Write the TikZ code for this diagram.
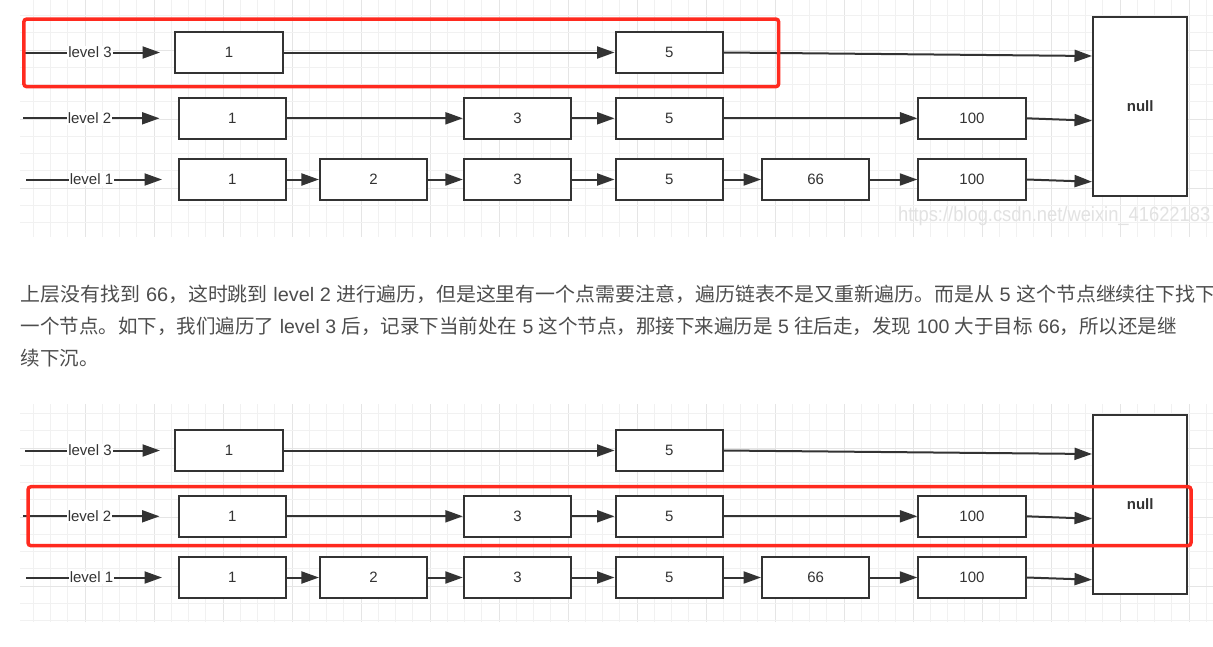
\documentclass[tikz,border=0pt]{standalone}
\usepackage{fontspec}
\setmainfont{Liberation Sans}
\newfontfamily\cjk{Noto Sans CJK SC}
\usetikzlibrary{arrows.meta}
\definecolor{ink}{HTML}{333333}
\definecolor{txt}{HTML}{4D4D4D}
\definecolor{hl}{HTML}{FF2A1F}
\definecolor{gmin}{HTML}{F1F1F1}
\definecolor{gmaj}{HTML}{E5E5E5}
\definecolor{wm}{HTML}{E2E2E2}
\newcommand\zh[1]{{\cjk #1}}
\newcommand\skiplist[2]{%
\begin{scope}[yshift=#2]
  % null block
  \node[nullbox] (#1null) at (1140.2,106.5) {null};
  \coordinate (#1n3) at (1092,56);
  \coordinate (#1n2) at (1092,120.7);
  \coordinate (#1n1) at (1092,181.7);
  % level 3
  \coordinate (#1s3) at (25,52.5);
  \node[lvl] (#1l3) at (90,52.5) {level 3};
  \coordinate (#1e3) at (160,52.5);
  \node[box] (#1a1) at (229,52.5) {1};
  \node[box] (#1a5) at (669.2,52.5) {5};
  % level 2
  \coordinate (#1s2) at (23,118.3);
  \node[lvl] (#1l2) at (89.5,118.3) {level 2};
  \coordinate (#1e2) at (159.5,118.3);
  \node[box] (#1b1) at (232.4,118.3) {1};
  \node[box] (#1b3) at (517.5,118.3) {3};
  \node[box] (#1b5) at (669.2,118.3) {5};
  \node[box] (#1b100) at (972,118.3) {100};
  % level 1
  \coordinate (#1s1) at (26,179.5);
  \node[lvl] (#1l1) at (91.5,179.5) {level 1};
  \coordinate (#1e1) at (162,179.5);
  \node[box] (#1c1) at (232.4,179.5) {1};
  \node[box] (#1c2) at (373.6,179.5) {2};
  \node[box] (#1c3) at (517.5,179.5) {3};
  \node[box] (#1c5) at (669.2,179.5) {5};
  \node[box] (#1c66) at (815.7,179.5) {66};
  \node[box] (#1c100) at (972,179.5) {100};
  % connectors
  \draw[feed] (#1s3) -- (#1l3.west);
  \draw[link] (#1l3.east) -- (#1e3);
  \draw[feed] (#1s2) -- (#1l2.west);
  \draw[link] (#1l2.east) -- (#1e2);
  \draw[feed] (#1s1) -- (#1l1.west);
  \draw[link] (#1l1.east) -- (#1e1);
  \draw[link] (#1a1) -- (#1a5);
  \draw[link] (#1a5.east) -- (#1n3);
  \draw[link] (#1b1) -- (#1b3);
  \draw[link] (#1b3) -- (#1b5);
  \draw[link] (#1b5) -- (#1b100);
  \draw[link] (#1b100.east) -- (#1n2);
  \draw[link] (#1c1) -- (#1c2);
  \draw[link] (#1c2) -- (#1c3);
  \draw[link] (#1c3) -- (#1c5);
  \draw[link] (#1c5) -- (#1c66);
  \draw[link] (#1c66) -- (#1c100);
  \draw[link] (#1c100.east) -- (#1n1);
\end{scope}}
\newcommand\gridarea[2]{% top, bottom
  \foreach \i in {0,...,68}{
    \pgfmathtruncatemacro\m{mod(\i,4)}
    \ifnum\m=3 \def\gc{gmaj}\else\def\gc{gmin}\fi
    \draw[\gc, line width=1pt] ({33.3+17.25*\i},#1) -- ({33.3+17.25*\i},#2);
  }
}
\newcommand\gridrows[2]{% first y, count
  \foreach \k in {0,...,#2}{
    \pgfmathtruncatemacro\m{mod(\k,4)}
    \ifnum\m=2 \def\gc{gmaj}\else\def\gc{gmin}\fi
    \draw[\gc, line width=1pt] (20,{#1+17.25*\k}) -- (1213,{#1+17.25*\k});
  }
}
\begin{document}
\begin{tikzpicture}[x=1pt,y=-1pt,
  box/.style={draw=ink, fill=white, line width=2pt, minimum width=107.3pt,
    minimum height=41pt, inner sep=0pt, font=\fontsize{15}{18}\selectfont, text=ink},
  nullbox/.style={draw=ink, fill=white, line width=2pt, minimum width=94.3pt,
    minimum height=178.5pt, inner sep=0pt, font=\fontsize{15}{18}\selectfont\bfseries, text=ink},
  lvl/.style={fill=white, inner sep=1pt, font=\fontsize{15}{18}\selectfont, text=ink},
  link/.style={draw=ink, line width=2pt, -{Triangle[length=17.5pt,width=12pt]}},
  feed/.style={draw=ink, line width=2pt},
  frame/.style={draw=hl, line width=3.5pt, rounded corners=3pt, inner sep=0pt},
  para/.style={inner sep=0pt, anchor=base west, text=txt, font=\fontsize{19.5}{24}\selectfont}
]
\fill[white] (0,0) rectangle (1213,646);
\useasboundingbox (0,0) rectangle (1213,646);
% grids
\gridarea{0}{237}
\gridrows{15.5}{12}
\gridarea{404}{622}
\gridrows{413.5}{12}
% watermark
\node[inner sep=0pt, anchor=base west, text=wm, font=\fontsize{20.5}{24}\selectfont] (wm) at (898,221.7)
  {\scalebox{0.895}[1]{https://blog.csdn.net/weixin\_41622183}};
% diagrams
\skiplist{t}{0pt}
\skiplist{u}{-398pt}
% highlight frames
\node[frame, minimum width=754.9pt, minimum height=67.7pt] (hl1) at (401.25,52.85) {};
\node[frame, minimum width=1163pt, minimum height=59pt] (hl2) at (609.5,516.2) {};
% paragraph
\node[para] (p1) at (20.7,301) {\scalebox{1.022}[1]{\zh{上层没有找到} 66\zh{，这时跳到} level 2 \zh{进行遍历，但是这里有一个点需要注意，遍历链表不是又重新遍历。而是从} 5 \zh{这个节点继续往下找下}}};
\node[para] (p2) at (20.7,333) {\zh{一个节点。如下，我们遍历了} level 3 \zh{后，记录下当前处在} 5 \zh{这个节点，那接下来遍历是} 5 \zh{往后走，发现} 100 \zh{大于目标} 66\zh{，所以还是继}};
\node[para] (p3) at (20.7,365) {\zh{续下沉。}};
\end{tikzpicture}
\end{document}
